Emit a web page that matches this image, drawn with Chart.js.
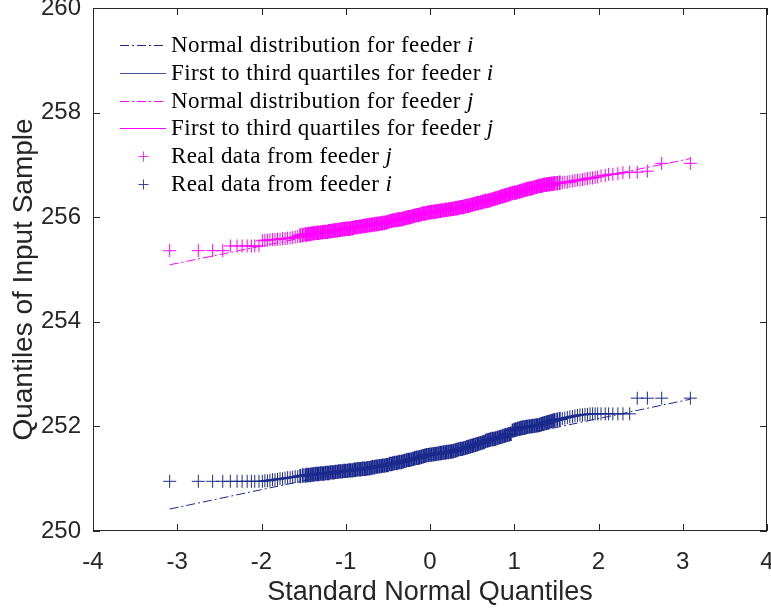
<!DOCTYPE html>
<html>
<head>
<meta charset="utf-8">
<script src="https://cdn.jsdelivr.net/npm/chart.js@4.4.1/dist/chart.umd.min.js"></script>
<style>
html, body { margin: 0; padding: 0; background: #fff; }
#qq { display: block; }
</style>
</head>
<body>
<canvas id="qq" width="771" height="612"></canvas>
<script>
// standard normal quantiles (x) shared by both samples
var quantiles = [
  -3.09, -2.75, -2.58, -2.46, -2.37, -2.29, -2.23, -2.17, -2.12, -2.08,
  -2.03, -1.99, -1.96, -1.93, -1.90, -1.87, -1.84, -1.81, -1.78, -1.75,
  -1.72, -1.69, -1.66, -1.63, -1.60, -1.57, -1.54, -1.51,
  -1.48, -1.46, -1.44, -1.42, -1.40, -1.38, -1.36, -1.34, -1.32, -1.30,
  -1.28, -1.26, -1.24, -1.22, -1.20, -1.18, -1.16, -1.14, -1.12, -1.10,
  -1.08, -1.06, -1.04, -1.02, -1.00, -0.98, -0.96, -0.94, -0.92, -0.90,
  -0.88, -0.86, -0.84, -0.82, -0.80, -0.78, -0.76, -0.74, -0.72, -0.70,
  -0.68, -0.66, -0.64, -0.62, -0.60, -0.58, -0.56, -0.54, -0.52, -0.50,
  -0.48, -0.46, -0.44, -0.42, -0.40, -0.38, -0.36, -0.34, -0.32, -0.30,
  -0.28, -0.26, -0.24, -0.22, -0.20, -0.18, -0.16, -0.14, -0.12, -0.10,
  -0.08, -0.06, -0.04, -0.02, 0.00, 0.02, 0.04, 0.06, 0.08, 0.10,
  0.12, 0.14, 0.16, 0.18, 0.20, 0.22, 0.24, 0.26, 0.28, 0.30,
  0.32, 0.34, 0.36, 0.38, 0.40, 0.42, 0.44, 0.46, 0.48, 0.50,
  0.52, 0.54, 0.56, 0.58, 0.60, 0.62, 0.64, 0.66, 0.68, 0.70,
  0.72, 0.74, 0.76, 0.78, 0.80, 0.82, 0.84, 0.86, 0.88, 0.90,
  0.92, 0.94, 0.96, 0.98, 1.00, 1.02, 1.04, 1.06, 1.08, 1.10,
  1.12, 1.14, 1.16, 1.18, 1.20, 1.22, 1.24, 1.26, 1.28, 1.30,
  1.32, 1.34, 1.36, 1.38, 1.40, 1.42, 1.44, 1.46, 1.48,
  1.51, 1.54, 1.57, 1.60, 1.63, 1.66, 1.69, 1.72,
  1.75, 1.78, 1.81, 1.84, 1.87, 1.90, 1.93, 1.96, 1.99, 2.03,
  2.08, 2.12, 2.17, 2.23, 2.29, 2.37, 2.46, 2.58, 2.75, 3.09
];

// sorted samples (y), feeder i
var feederI = [
  250.95, 250.95, 250.95, 250.95, 250.95, 250.95, 250.95, 250.95, 250.95, 250.95,
  250.95, 250.95, 250.96, 250.96, 250.97, 250.98, 250.98, 250.99, 251.00, 251.00,
  251.01, 251.02, 251.02, 251.03, 251.04, 251.04, 251.05, 251.06,
  251.06, 251.07, 251.07, 251.07, 251.08, 251.08, 251.09, 251.09, 251.09, 251.10,
  251.10, 251.10, 251.11, 251.11, 251.11, 251.12, 251.12, 251.12, 251.13, 251.13,
  251.14, 251.14, 251.14, 251.15, 251.15, 251.15, 251.16, 251.16, 251.16, 251.17,
  251.17, 251.18, 251.18, 251.18, 251.19, 251.19, 251.19, 251.20, 251.20, 251.21,
  251.22, 251.22, 251.23, 251.23, 251.24, 251.24, 251.25, 251.25, 251.26, 251.26,
  251.28, 251.28, 251.29, 251.30, 251.30, 251.31, 251.32, 251.32, 251.33, 251.34,
  251.35, 251.36, 251.36, 251.37, 251.38, 251.39, 251.40, 251.40, 251.41, 251.42,
  251.43, 251.44, 251.45, 251.45, 251.46, 251.46, 251.47, 251.47, 251.48, 251.48,
  251.49, 251.49, 251.50, 251.50, 251.51, 251.51, 251.52, 251.52, 251.53, 251.54,
  251.55, 251.56, 251.57, 251.57, 251.58, 251.59, 251.60, 251.61, 251.62, 251.63,
  251.64, 251.65, 251.66, 251.67, 251.68, 251.69, 251.70, 251.72, 251.73, 251.74,
  251.75, 251.76, 251.76, 251.77, 251.78, 251.79, 251.80, 251.81, 251.82, 251.83,
  251.84, 251.85, 251.86, 251.92, 251.93, 251.94, 251.95, 251.96, 251.97, 251.98,
  251.98, 251.99, 251.99, 252.00, 252.00, 252.01, 252.01, 252.02, 252.02, 252.03,
  252.04, 252.05, 252.06, 252.07, 252.08, 252.09, 252.10, 252.11, 252.12,
  252.13, 252.14, 252.15, 252.16, 252.17, 252.18, 252.19, 252.20,
  252.21, 252.22, 252.22, 252.23, 252.23, 252.24, 252.24, 252.24, 252.24, 252.24,
  252.24, 252.24, 252.24, 252.24, 252.24, 252.24, 252.54, 252.54, 252.54, 252.54
];

// sorted samples (y), feeder j
var feederJ = [
  255.36, 255.36, 255.36, 255.36, 255.45, 255.45, 255.45, 255.45, 255.45, 255.45,
  255.45, 255.55, 255.56, 255.56, 255.57, 255.57, 255.57, 255.58, 255.58, 255.59,
  255.59, 255.60, 255.60, 255.61, 255.62, 255.63, 255.65, 255.66,
  255.67, 255.67, 255.68, 255.68, 255.69, 255.69, 255.70, 255.70, 255.70, 255.71,
  255.71, 255.72, 255.72, 255.72, 255.73, 255.73, 255.74, 255.74, 255.75, 255.75,
  255.76, 255.76, 255.77, 255.77, 255.78, 255.78, 255.78, 255.79, 255.79, 255.80,
  255.81, 255.81, 255.82, 255.82, 255.83, 255.83, 255.84, 255.84, 255.85, 255.85,
  255.86, 255.86, 255.87, 255.87, 255.88, 255.88, 255.89, 255.89, 255.90, 255.91,
  255.92, 255.93, 255.94, 255.94, 255.95, 255.95, 255.96, 255.96, 255.97, 255.98,
  255.99, 256.00, 256.00, 256.01, 256.02, 256.03, 256.04, 256.04, 256.05, 256.06,
  256.07, 256.07, 256.08, 256.09, 256.09, 256.10, 256.10, 256.11, 256.11, 256.12,
  256.12, 256.13, 256.13, 256.14, 256.14, 256.15, 256.15, 256.16, 256.16, 256.17,
  256.17, 256.18, 256.19, 256.19, 256.20, 256.21, 256.22, 256.22, 256.23, 256.24,
  256.25, 256.26, 256.27, 256.27, 256.28, 256.29, 256.30, 256.31, 256.31, 256.32,
  256.33, 256.34, 256.35, 256.36, 256.37, 256.38, 256.39, 256.40, 256.41, 256.42,
  256.43, 256.44, 256.45, 256.46, 256.47, 256.47, 256.48, 256.49, 256.50, 256.51,
  256.52, 256.53, 256.54, 256.55, 256.55, 256.56, 256.57, 256.58, 256.59, 256.60,
  256.60, 256.61, 256.62, 256.62, 256.63, 256.63, 256.64, 256.64, 256.65,
  256.65, 256.66, 256.66, 256.67, 256.67, 256.68, 256.69, 256.70,
  256.71, 256.71, 256.72, 256.73, 256.74, 256.75, 256.75, 256.76, 256.77, 256.79,
  256.80, 256.82, 256.82, 256.83, 256.85, 256.86, 256.86, 256.88, 257.03, 257.03
];

// reference lines
var normalX = [-3.09, 3.09];
var normalI = [250.42, 252.52];
var normalJ = [255.09, 257.12];
var quartileX = [-0.674, 0.674];
var quartileI = [251.24, 251.70];
var quartileJ = [255.88, 256.33];

var xTicks = [-4, -3, -2, -1, 0, 1, 2, 3, 4];
var yTicks = [250, 252, 254, 256, 258, 260];
var yTitle = 'Quantiles of Input Sample';

var navy = '#1b2a8c';
var pink = '#ff00ff';
var sansFamily = '"Liberation Sans", Arial, sans-serif';

function pts(xs, ys) {
  return xs.map(function(x, k) { return { x: x, y: ys[k] }; });
}

// crosses pile up into a solid ribbon where the sample is dense
function dense(c) {
  return c.raw && Math.abs(c.raw.x) < 1.55;
}
function crossWidth(c) { return dense(c) ? 1.8 : 1; }
function crossRadius(c) { return dense(c) ? 7.2 : 6.5; }

// box around the plot with inward tick marks, plus the y label
var boxTicks = {
  id: 'boxTicks',
  afterDraw: function(chart) {
    var ctx = chart.ctx, a = chart.chartArea;
    var xs = chart.scales.x, ys = chart.scales.y;
    ctx.save();
    ctx.strokeStyle = '#262626';
    ctx.lineWidth = 1;
    ctx.setLineDash([]);
    ctx.strokeRect(a.left + 0.5, a.top + 0.5, a.right - a.left - 1, a.bottom - a.top - 1);
    ctx.beginPath();
    xs.ticks.forEach(function(t) {
      var px = Math.round(xs.getPixelForValue(t.value)) + 0.5;
      ctx.moveTo(px, a.bottom); ctx.lineTo(px, a.bottom - 7);
      ctx.moveTo(px, a.top); ctx.lineTo(px, a.top + 7);
    });
    ys.ticks.forEach(function(t) {
      var py = Math.round(ys.getPixelForValue(t.value)) + 0.5;
      ctx.moveTo(a.left, py); ctx.lineTo(a.left + 7, py);
      ctx.moveTo(a.right, py); ctx.lineTo(a.right - 7, py);
    });
    ctx.stroke();

    // MATLAB puts the y label a little below the axes centre
    ctx.translate(31.5, (a.top + a.bottom) / 2 + 10);
    ctx.rotate(-Math.PI / 2);
    ctx.fillStyle = '#262626';
    ctx.font = '28px ' + sansFamily;
    ctx.textAlign = 'center';
    ctx.textBaseline = 'alphabetic';
    ctx.fillText(yTitle, 0, 0);
    ctx.restore();
  }
};

// legend inside the axes, serif text with italic feeder letter
var legendOrder = [2, 3, 4, 5, 1, 0];
var serifLegend = {
  id: 'serifLegend',
  afterDraw: function(chart) {
    var ctx = chart.ctx, a = chart.chartArea;
    ctx.save();
    legendOrder.forEach(function(di, r) {
      var ds = chart.data.datasets[di];
      var col = ds.legendColor || ds.borderColor;
      var y = Math.round(a.top + 37 + r * 27.8);
      var x0 = a.left + 27, x1 = a.left + 73;
      ctx.strokeStyle = col;
      ctx.lineWidth = 1;
      if (ds.showLine) {
        ctx.setLineDash(ds.borderDash || []);
        ctx.beginPath();
        ctx.moveTo(x0, y + 0.5);
        ctx.lineTo(x1, y + 0.5);
        ctx.stroke();
      } else {
        var cx = Math.round((x0 + x1) / 2) + 0.5, cy = y + 0.5;
        ctx.setLineDash([]);
        ctx.beginPath();
        ctx.moveTo(cx - 5, cy); ctx.lineTo(cx + 5, cy);
        ctx.moveTo(cx, cy - 5); ctx.lineTo(cx, cy + 5);
        ctx.stroke();
      }
      var label = ds.label;
      var head = label.slice(0, -1), tail = label.slice(-1);
      ctx.fillStyle = '#000';
      ctx.textBaseline = 'middle';
      ctx.textAlign = 'left';
      ctx.letterSpacing = '0.4px';
      ctx.font = '23px "Liberation Serif", "Times New Roman", serif';
      ctx.fillText(head, a.left + 78, y + 1);
      var w = ctx.measureText(head).width;
      ctx.font = 'italic 23px "Liberation Serif", "Times New Roman", serif';
      ctx.fillText(tail, a.left + 78 + w, y + 1);
    });
    ctx.restore();
  }
};

function noOverhang(s) {
  s.paddingLeft = 0; s.paddingRight = 0; s.paddingTop = 0; s.paddingBottom = 0;
}

var tickFont = { family: sansFamily, size: 24 };
var titleFont = { family: sansFamily, size: 27 };

new Chart(document.getElementById('qq').getContext('2d'), {
  type: 'scatter',
  data: {
    datasets: [
      {
        label: 'Real data from feeder i',
        data: pts(quantiles, feederI),
        borderColor: navy, backgroundColor: navy, legendColor: '#3446a0',
        pointStyle: 'cross', pointRadius: crossRadius, pointBorderWidth: crossWidth,
        showLine: false, order: 2
      },
      {
        label: 'Real data from feeder j',
        data: pts(quantiles, feederJ),
        borderColor: pink, backgroundColor: pink, legendColor: '#ff33ff',
        pointStyle: 'cross', pointRadius: crossRadius, pointBorderWidth: crossWidth,
        showLine: false, order: 2
      },
      {
        label: 'Normal distribution for feeder i',
        data: pts(normalX, normalI),
        borderColor: navy, borderWidth: 1, borderDash: [9, 3, 2, 3],
        pointRadius: 0, showLine: true, order: 1
      },
      {
        label: 'First to third quartiles for feeder i',
        data: pts(quartileX, quartileI),
        borderColor: navy, legendColor: '#42529f', borderWidth: 1,
        pointRadius: 0, showLine: true, order: 3
      },
      {
        label: 'Normal distribution for feeder j',
        data: pts(normalX, normalJ),
        borderColor: pink, borderWidth: 1, borderDash: [9, 3, 2, 3],
        pointRadius: 0, showLine: true, order: 1
      },
      {
        label: 'First to third quartiles for feeder j',
        data: pts(quartileX, quartileJ),
        borderColor: pink, borderWidth: 1,
        pointRadius: 0, showLine: true, order: 3
      }
    ]
  },
  options: {
    responsive: false,
    animation: false,
    events: [],
    devicePixelRatio: 1,
    layout: { padding: { left: 0, right: 4, top: 8, bottom: 0 }, autoPadding: false },
    plugins: { legend: { display: false }, tooltip: { enabled: false } },
    scales: {
      x: {
        type: 'linear', min: -4, max: 4,
        afterBuildTicks: function(s) { s.ticks = xTicks.map(function(v) { return { value: v }; }); },
        afterFit: function(s) { s.height = 81; noOverhang(s); },
        grid: { display: false, drawTicks: false },
        border: { display: false },
        ticks: { font: tickFont, color: '#262626', padding: 17, maxRotation: 0 },
        title: { display: true, text: 'Standard Normal Quantiles', font: titleFont, color: '#262626', padding: { top: 0, bottom: 3 } }
      },
      y: {
        type: 'linear', min: 250, max: 260,
        afterBuildTicks: function(s) { s.ticks = yTicks.map(function(v) { return { value: v }; }); },
        afterFit: function(s) { s.width = 93; noOverhang(s); },
        grid: { display: false, drawTicks: false },
        border: { display: false },
        ticks: { font: tickFont, color: '#262626', padding: 12 },
        title: { display: false, text: yTitle }
      }
    }
  },
  plugins: [boxTicks, serifLegend]
});
</script>
</body>
</html>
